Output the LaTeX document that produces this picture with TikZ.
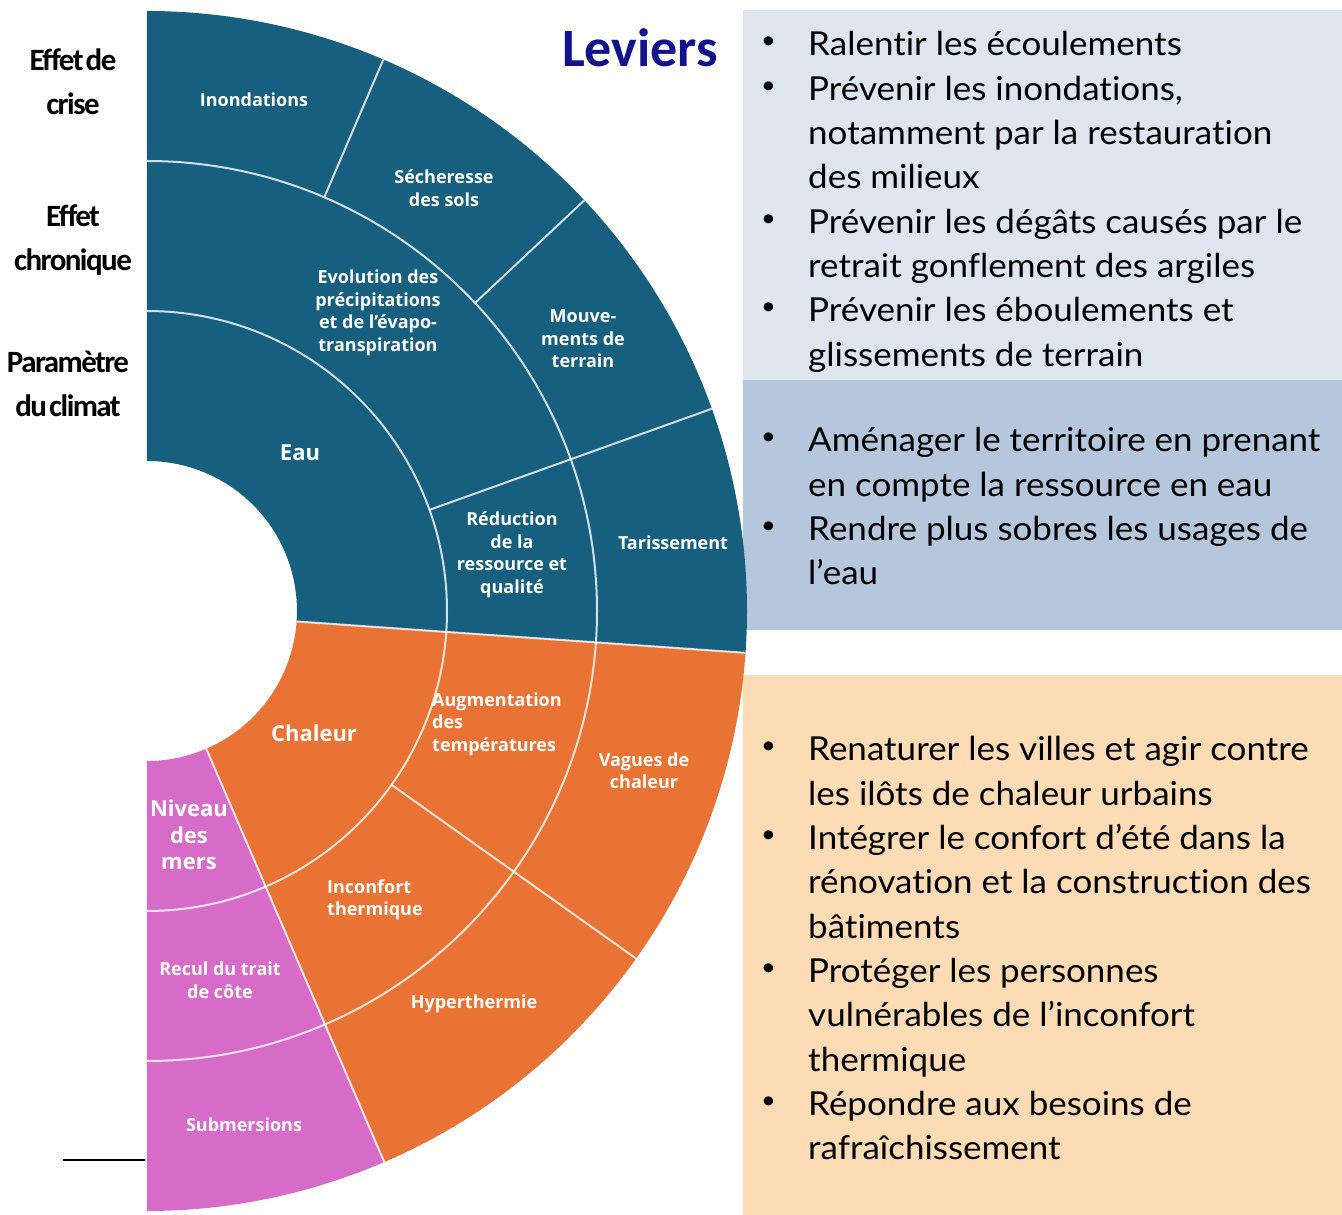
\documentclass[tikz,border=0pt]{standalone}
\usepackage{fontspec}
\setmainfont[Ligatures=NoCommon,FakeStretch=1.06]{Lato}
\newfontfamily\labfont{Open Sans}
\newfontfamily\calfont{Carlito}
\newfontfamily\tightfont[LetterSpace=-5,WordSpace=0.4]{Carlito}
\definecolor{cblue}{HTML}{175F7F}
\definecolor{corange}{HTML}{E97334}
\definecolor{cpink}{HTML}{D76CC8}
\definecolor{pone}{HTML}{DEE5EF}
\definecolor{ptwo}{HTML}{B4C7DD}
\definecolor{pthree}{HTML}{FDDBB4}
\definecolor{cnavy}{HTML}{12128C}
\newcommand\mysector[5]{\fill[#5] (#3:#1pt) arc[start angle=#3, end angle=#4, radius=#1pt] -- (#4:#2pt) arc[start angle=#4, end angle=#3, radius=#2pt] -- cycle;}
\newcommand\bul{\raisebox{7pt}{\fontsize{24}{24}\selectfont\textbullet}}
\begin{document}
\begin{tikzpicture}[x=1pt,y=1pt,
  lab/.style={text=white, font=\labfont\bfseries\fontsize{18}{22.5}\selectfont, align=center, inner sep=0pt},
  biglab/.style={lab, font=\labfont\bfseries\fontsize{22}{26.5}\selectfont},
  side/.style={text=black, font=\tightfont\bfseries\fontsize{31}{44}\selectfont, align=center, inner sep=0pt},
  sep/.style={draw=white, draw opacity=0.8, line width=2pt},
  panel/.style={anchor=base west, inner sep=0pt, text=black, font=\fontsize{33}{44.3}\selectfont}
]
\useasboundingbox (-147,-604) rectangle (1195,611);
% panels
\fill[pone] (596,601) rectangle (1195,231);
\fill[ptwo] (596,231) rectangle (1195,-19);
\fill[pthree] (596,-64) rectangle (1195,-604);
% sunburst
\mysector{150}{600}{90}{-4}{cblue}
\mysector{150}{600}{-4}{-66.7}{corange}
\mysector{150}{600}{-66.7}{-90}{cpink}
\draw[sep] (90:300pt) arc[start angle=90, end angle=-90, radius=300pt];
\draw[sep] (90:450pt) arc[start angle=90, end angle=-90, radius=450pt];
\draw[sep] (-4:150pt) -- (-4:600pt);
\draw[sep] (-66.7:150pt) -- (-66.7:600pt);
\draw[sep] (-35.4:300pt) -- (-35.4:600pt);
\draw[sep] (19.7:300pt) -- (19.7:600pt);
\draw[sep] (66.8:450pt) -- (66.8:600pt);
\draw[sep] (43.2:450pt) -- (43.2:600pt);
% sunburst labels
\node[lab] (inond) at (107,511) {Inondations};
\node[lab] (sech) at (297,423) {Sécheresse\\des sols};
\node[lab] (evol) at (231,298) {Evolution des\\précipitations\\et de l’évapo-\\transpiration};
\node[lab] (mouv) at (436,272) {Mouve-\\ments de\\terrain};
\node[biglab] (eau) at (153,158) {Eau};
\node[lab] (reduc) at (365,56) {Réduction\\de la\\ressource et\\qualité};
\node[lab] (taris) at (526,68) {Tarissement};
\node[biglab] (chal) at (167,-122) {Chaleur};
\node[lab, anchor=west, align=left] (augm) at (285,-113) {Augmentation\\des\\températures};
\node[lab] (vagues) at (497,-160) {Vagues de\\chaleur};
\node[biglab] (niveau) at (42,-224) {Niveau\\des\\mers};
\node[lab, anchor=west, align=left] (inconf) at (180,-289) {Inconfort\\thermique};
\node[lab] (recul) at (73,-369) {Recul du trait\\de côte};
\node[lab] (hyper) at (327,-393) {Hyperthermie};
\node[lab] (subm) at (97,-514) {Submersions};
% side labels
\node[side] (crise) at (-74,529) {Effet de\\crise};
\node[side] (chron) at (-74,371) {Effet\\chronique};
\node[side] (param) at (-79,227) {Paramètre\\du climat};
\coordinate (la) at (-84,-549);
\coordinate (lb) at (-2,-549);
\draw[black, line width=2pt] (la) -- (lb);
% title
\node[font=\calfont\bfseries\fontsize{54}{60}\selectfont, text=cnavy, inner sep=0pt] (lev) at (493,563) {Leviers};
% panel texts
\node[panel] (txt1) at (614,555) {\begin{tabular}[t]{@{}p{47pt}@{}l@{}}
\bul & Ralentir les écoulements\\
\bul & Prévenir les inondations,\\
 & notamment par la restauration\\
 & des milieux\\
\bul & Prévenir les dégâts causés par le\\
 & retrait gonflement des argiles\\
\bul & Prévenir les éboulements et\\
 & glissements de terrain
\end{tabular}};
\node[panel] (txt2) at (614,159) {\begin{tabular}[t]{@{}p{47pt}@{}l@{}}
\bul & Aménager le territoire en prenant\\
 & en compte la ressource en eau\\
\bul & Rendre plus sobres les usages de\\
 & l’eau
\end{tabular}};
\node[panel] (txt3) at (614,-150) {\begin{tabular}[t]{@{}p{47pt}@{}l@{}}
\bul & Renaturer les villes et agir contre\\
 & les ilôts de chaleur urbains\\
\bul & Intégrer le confort d’été dans la\\
 & rénovation et la construction des\\
 & bâtiments\\
\bul & Protéger les personnes\\
 & vulnérables de l’inconfort\\
 & thermique\\
\bul & Répondre aux besoins de\\
 & rafraîchissement
\end{tabular}};
\end{tikzpicture}
\end{document}
